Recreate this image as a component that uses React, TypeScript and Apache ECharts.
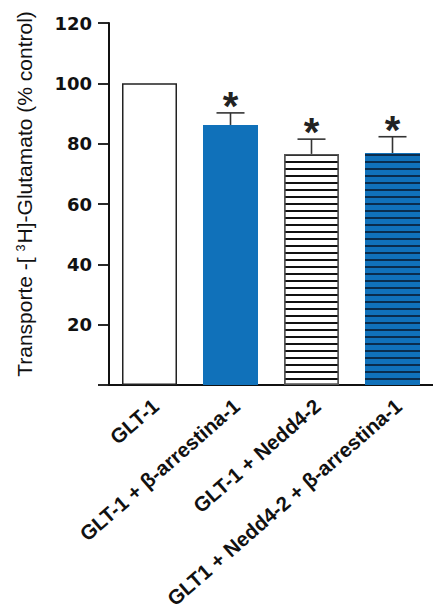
import React, { useEffect, useRef } from "react";
import * as echarts from "echarts";

const categories = [
  "GLT-1",
  "GLT-1 + β-arrestina-1",
  "GLT-1 + Nedd4-2",
  "GLT1 + Nedd4-2 + β-arrestina-1",
];
const meanValues = [100, 86.2, 76.6, 76.9];
const upperErrors = [0, 4.0, 4.9, 5.4];
const significant = [false, true, true, true];
const yMin = 0;
const yMax = 120;
const yStep = 20;

const BLUE = "#1071BA";

export default function App() {
  const ref = useRef<HTMLDivElement>(null);

  useEffect(() => {
    document.body.style.margin = "0";
    const chart = echarts.init(ref.current as HTMLDivElement, null, { renderer: "svg" });

    const barStyles = [
      { color: "#ffffff", borderColor: "#222222", borderWidth: 1.5 },
      { color: BLUE, borderWidth: 0 },
      {
        color: "#ffffff",
        borderColor: "#555555",
        borderWidth: 1.5,
        decal: {
          symbol: "rect",
          symbolSize: 1,
          dashArrayX: [1, 0],
          dashArrayY: [1.4, 4.5],
          rotation: 0,
          color: "#111111",
        },
      },
      {
        color: BLUE,
        borderWidth: 0,
        decal: {
          symbol: "rect",
          symbolSize: 1,
          dashArrayX: [1, 0],
          dashArrayY: [1.8, 4.1],
          rotation: 0,
          color: "#0a2c4c",
        },
      },
    ];

    const option: any = {
      animation: false,
      backgroundColor: "#ffffff",
      grid: {
        left: 109,
        right: 0,
        top: 23,
        bottom: 227,
        containLabel: false,
        outerBoundsMode: "none",
      },
      xAxis: {
        type: "category",
        data: categories,
        boundaryGap: true,
        axisLine: { show: true, lineStyle: { color: "#111", width: 2 } },
        axisTick: { show: false },
        axisLabel: {
          interval: 0,
          rotate: 41,
          margin: 23,
          padding: [0, -8, 0, 0],
          color: "#111",
          fontSize: 20.5,
          fontWeight: "bold",
          fontFamily: "Liberation Sans, Arial, sans-serif",
        },
      },
      yAxis: {
        type: "value",
        min: yMin,
        max: yMax,
        interval: yStep,
        splitLine: { show: false },
        axisLine: { show: true, onZero: false, lineStyle: { color: "#111", width: 2 } },
        axisTick: { show: true, length: 11, lineStyle: { color: "#111", width: 1.8 } },
        axisLabel: {
          margin: 17,
          color: "#111",
          fontSize: 18,
          fontWeight: "bold",
          fontFamily: "DejaVu Sans, sans-serif",
          formatter: (v: number) => (v === 0 ? "" : String(v)),
        },
        name: "Transporte -[{sup|3}H]-Glutamato (% control)",
        nameLocation: "middle",
        nameGap: 74,
        nameTextStyle: {
          color: "#111",
          fontSize: 21,
          fontFamily: "Liberation Sans, Arial, sans-serif",
          padding: [0, 0, 0, 20],
          rich: {
            sup: {
              fontSize: 12.5,
              verticalAlign: "top",
              padding: [0, 1, 0, 6],
              color: "#111",
              fontFamily: "Liberation Sans, Arial, sans-serif",
            },
          },
        },
      },
      series: [
        {
          type: "bar",
          barWidth: 55,
          data: meanValues.map((v, i) => ({ value: v, itemStyle: barStyles[i] })),
        },
        {
          type: "custom",
          data: meanValues.map((v, i) => [i, v, v + upperErrors[i], significant[i] ? 1 : 0]),
          renderItem: (params: any, api: any) => {
            const i = api.value(0);
            const base = api.coord([i, api.value(1)]);
            const top = api.coord([i, api.value(2)]);
            const children: any[] = [];
            if (api.value(2) > api.value(1)) {
              children.push({
                type: "line",
                shape: { x1: base[0], y1: base[1], x2: top[0], y2: top[1] },
                style: { stroke: "#333", lineWidth: 1.6 },
              });
              children.push({
                type: "line",
                shape: { x1: top[0] - 14, y1: top[1], x2: top[0] + 14, y2: top[1] },
                style: { stroke: "#333", lineWidth: 1.6 },
              });
            }
            if (api.value(3) === 1) {
              children.push({
                type: "text",
                style: {
                  text: "*",
                  x: top[0],
                  y: top[1] - 7,
                  textAlign: "center",
                  textVerticalAlign: "middle",
                  font: "bold 40px 'Liberation Sans', Arial, sans-serif",
                  fill: "#222",
                },
              });
            }
            return { type: "group", children };
          },
          z: 5,
        },
      ],
    };

    chart.setOption(option);
    return () => chart.dispose();
  }, []);

  return <div ref={ref} style={{ width: 433, height: 612 }} />;
}
